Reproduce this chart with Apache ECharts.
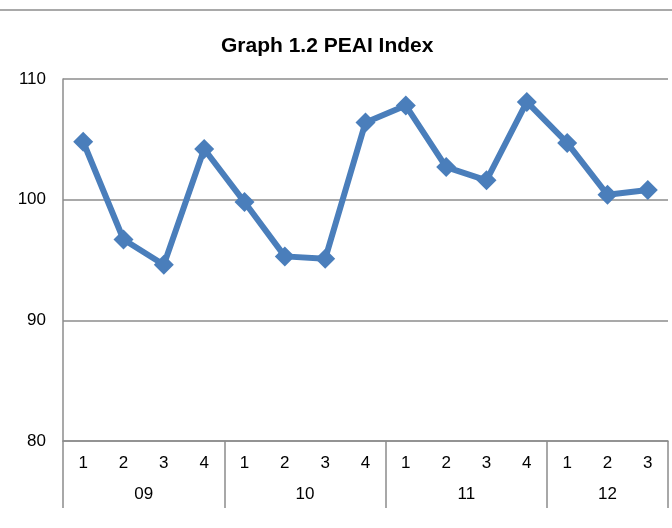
<!DOCTYPE html>
<html>
<head>
<meta charset="utf-8">
<script src="https://cdn.jsdelivr.net/npm/echarts@6/dist/echarts.min.js"></script>
<style>html,body{margin:0;padding:0;background:#fff;}#c{width:672px;height:528px;}</style>
</head>
<body>
<div id="c"></div>
<script>
const quarters = ['1','2','3','4','1','2','3','4','1','2','3','4','1','2','3'];
const values = [104.8, 96.7, 94.6, 104.2, 99.8, 95.3, 95.1, 106.4, 107.8, 102.7, 101.6, 108.1, 104.7, 100.4, 100.8];
const years = ['09','10','11','12'];
const yearCenters = [2, 6, 10, 13.5];
const yearBounds = [0, 4, 8, 12, 15];
const yTicks = [80, 90, 100, 110];

const chart = echarts.init(document.getElementById('c'), null, {renderer: 'canvas'});
const gray = '#8c8c8c';
const font = 'Liberation Sans, Arial, sans-serif';
chart.setOption({
  animation: false,
  backgroundColor: '#fff',
  title: {
    text: 'Graph 1.2 PEAI Index',
    left: 216, top: 31,
    textStyle: {fontFamily: font, fontSize: 21, fontWeight: 'bold', color: '#000'}
  },
  grid: {left: 63, right: 4, top: 79, bottom: 87, containLabel: false},
  xAxis: [{
    type: 'category',
    data: quarters,
    boundaryGap: true,
    axisLine: {show: true, lineStyle: {color: gray, width: 1.5}},
    axisTick: {show: false},
    axisLabel: {fontFamily: font, fontSize: 17, color: '#000', margin: 14, interval: 0}
  }, {
    type: 'value',
    min: 0, max: 15,
    position: 'bottom',
    axisLine: {show: false},
    splitLine: {show: false},
    axisTick: {show: true, inside: false, length: 67, customValues: yearBounds, lineStyle: {color: gray, width: 1.5}},
    axisLabel: {
      fontFamily: font, fontSize: 17, color: '#000', margin: 45,
      customValues: yearCenters,
      formatter: function (v) { const i = yearCenters.indexOf(v); return i >= 0 ? years[i] : ''; }
    }
  }],
  yAxis: {
    type: 'value',
    min: yTicks[0], max: yTicks[yTicks.length - 1], interval: 10,
    axisLine: {show: true, lineStyle: {color: gray, width: 1.5}},
    axisTick: {show: false},
    splitLine: {show: true, lineStyle: {color: gray, width: 1.5}},
    axisLabel: {fontFamily: font, fontSize: 17, color: '#000', margin: 17}
  },
  graphic: [{
    type: 'line',
    shape: {x1: 0, y1: 10, x2: 672, y2: 10},
    style: {stroke: gray, lineWidth: 1.5}
  }],
  series: [{
    type: 'line',
    data: values,
    xAxisIndex: 0,
    symbol: 'diamond',
    symbolSize: 20,
    lineStyle: {color: '#4a7ebb', width: 6},
    itemStyle: {color: '#4a7ebb'},
    z: 5
  }]
});
</script>
</body>
</html>
